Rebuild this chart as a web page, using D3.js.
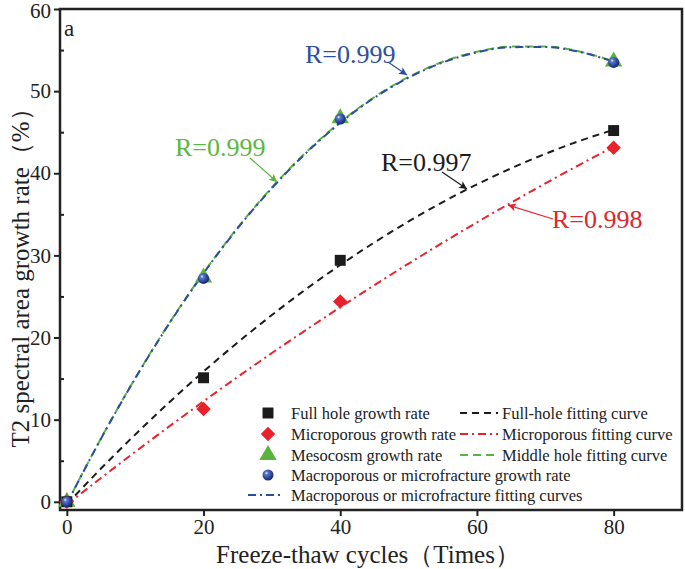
<!DOCTYPE html>
<html>
<head>
<meta charset="utf-8">
<script src="https://cdn.jsdelivr.net/npm/d3@7"></script>
<style>
  html, body { margin: 0; padding: 0; background: #fff; }
  svg { display: block; }
  text { font-family: "Liberation Serif", "Times New Roman", serif; }
</style>
</head>
<body>
<svg id="chart" width="685" height="569"></svg>
<script>
// ---------------- data ----------------
const cycles = [0, 20, 40, 80];
const fullHole = [0, 15.1, 29.4, 45.2];
const microporous = [0, 11.3, 24.4, 43.1];
const mesocosm = [0, 27.3, 46.7, 53.6];
const macroporous = [0, 27.2, 46.6, 53.5];

// fitted curves
const fitX = [0, 5, 10, 15, 20, 25, 30, 35, 40, 45, 50, 55, 60, 65, 70, 75, 80];
const fitFull = [-0.3, 4.05, 8.18, 12.12, 15.86, 19.4, 22.74, 25.89, 28.83, 31.58, 34.13, 36.49, 38.64, 40.6, 42.36, 43.93, 45.29];
const fitMicro = [-0.36, 2.9, 6.08, 9.19, 12.23, 15.21, 18.11, 20.93, 23.69, 26.38, 29.0, 31.55, 34.02, 36.42, 38.76, 41.03, 43.22];
const fitMiddle = [-0.2, 7.72, 15.05, 21.77, 27.88, 33.38, 38.27, 42.55, 46.22, 49.28, 51.73, 53.57, 54.8, 55.42, 55.43, 54.83, 53.62];
const fitMacro = [-0.23, 7.69, 15.01, 21.72, 27.82, 33.31, 38.19, 42.47, 46.14, 49.2, 51.65, 53.49, 54.72, 55.35, 55.37, 54.78, 53.58];

const xTicks = [0, 20, 40, 60, 80];
const yTicks = [0, 10, 20, 30, 40, 50, 60];
const yMinorTicks = [5, 15, 25, 35, 45, 55];

const legendLabels = ["Full hole growth rate", "Microporous growth rate", "Mesocosm growth rate",
  "Macroporous or microfracture growth rate"];
const legendCurveLabels = ["Full-hole fitting curve", "Microporous fitting curve", "Middle hole fitting curve",
  "Macroporous or microfracture fitting curves"];
const rLabels = ["R=0.997", "R=0.998", "R=0.999", "R=0.999"];

// ---------------- layout ----------------
const L = 60, R = 682, T = 9, B = 510;
const svg = d3.select("#chart");
const x = d3.scaleLinear().domain([-1, 90]).range([L, R]);
const y = d3.scaleLinear().domain([-1, 60]).range([B, T]);

const col = {
  black: "#1b1b1b", red: "#e8222b", green: "#5bb33f", blue: "#2c4c9e",
  redText: "#e0262c", greenText: "#5cb83c", blueText: "#2e4fa0", axis: "#222"
};

const defs = svg.append("defs");
const grad = defs.append("radialGradient").attr("id", "sphere")
  .attr("cx", "40%").attr("cy", "38%").attr("r", "60%").attr("fx", "35%").attr("fy", "32%");
grad.append("stop").attr("offset", "0%").attr("stop-color", "#e8ecff");
grad.append("stop").attr("offset", "25%").attr("stop-color", "#5a78c8");
grad.append("stop").attr("offset", "70%").attr("stop-color", "#2c46a0");
grad.append("stop").attr("offset", "100%").attr("stop-color", "#1a2a70");

function arrowDef(id, color) {
  defs.append("marker").attr("id", id).attr("viewBox", "0 0 10 10")
    .attr("refX", 10).attr("refY", 5).attr("markerWidth", 10).attr("markerHeight", 8)
    .attr("markerUnits", "userSpaceOnUse").attr("orient", "auto")
    .append("path").attr("d", "M0,0 L10,5 L0,10 L2.5,5 Z").attr("fill", color);
}
arrowDef("arBlack", col.black);
arrowDef("arRed", col.red);
arrowDef("arGreen", col.green);
arrowDef("arBlue", col.blue);

// ---------------- axes ----------------
const xAxis = d3.axisBottom(x).tickValues(xTicks).tickSize(6).tickPadding(3).tickFormat(d3.format("d"));
const gx = svg.append("g").attr("transform", `translate(0,${B})`).call(xAxis);
const yAxis = d3.axisLeft(y).tickValues(yTicks).tickSize(6).tickPadding(3).tickFormat(d3.format("d"));
const gy = svg.append("g").attr("transform", `translate(${L},0)`).call(yAxis);
const yMinor = d3.axisRight(y).tickValues(yMinorTicks).tickSize(4).tickFormat("");
const gym = svg.append("g").attr("transform", `translate(${L},0)`).call(yMinor);
[gx, gy, gym].forEach(g => {
  g.select(".domain").remove();
  g.selectAll(".tick line").attr("stroke", col.axis).attr("stroke-width", 2);
  g.selectAll(".tick text").attr("fill", "#222").style("font-size", "21px")
    .style("font-family", "'Liberation Serif', serif");
});
gy.selectAll(".tick text").filter(d => d === 60).attr("dy", "0.42em");

svg.append("rect").attr("x", L).attr("y", T).attr("width", R - L).attr("height", B - T)
  .attr("fill", "none").attr("stroke", col.axis).attr("stroke-width", 2.5);

svg.append("text").attr("x", 368).attr("y", 563).attr("text-anchor", "middle")
  .attr("fill", "#222").style("font-size", "25px").text("Freeze-thaw cycles（Times）");
svg.append("text").attr("transform", "translate(29,272) rotate(-90)").attr("text-anchor", "middle")
  .attr("fill", "#222").style("font-size", "25px").text("T2 spectral area growth rate（%）");

svg.append("text").attr("x", 64).attr("y", 36).attr("fill", "#222").style("font-size", "23px").text("a");

// ---------------- curves ----------------
const line = d3.line().x(d => x(d[0])).y(d => y(d[1])).curve(d3.curveMonotoneX);
const curveDefs = [
  { vals: fitFull, color: col.black, dash: "7,5" },
  { vals: fitMicro, color: col.red, dash: "8,4,2,4" },
  { vals: fitMiddle, color: col.green, dash: "8,5" },
  { vals: fitMacro, color: col.blue, dash: "8,4,2,4" }
];
curveDefs.forEach(c => {
  svg.append("path").datum(fitX.map((v, i) => [v, c.vals[i]]))
    .attr("d", line).attr("fill", "none").attr("stroke", c.color)
    .attr("stroke-width", 2).attr("stroke-dasharray", c.dash);
});

// ---------------- markers ----------------
const sq = d3.symbol().type(d3.symbolSquare).size(120);
const dia = d3.symbol().type(d3.symbolSquare).size(105);
const tri = d3.symbol().type(d3.symbolTriangle).size(130);
const rot = { sq: 0, dia: 45, tri: 0 };

function drawPts(vals, sym, fill, angle) {
  svg.append("g").selectAll("path").data(cycles.map((c, i) => [c, vals[i]])).join("path")
    .attr("transform", d => `translate(${x(d[0])},${y(d[1])}) rotate(${angle})`)
    .attr("d", sym).attr("fill", fill);
}
drawPts(mesocosm, tri, col.green, rot.tri);
drawPts(microporous, dia, col.red, rot.dia);
drawPts(fullHole, sq, col.black, rot.sq);
svg.append("g").selectAll("circle").data(cycles.map((c, i) => [c, macroporous[i]])).join("circle")
  .attr("cx", d => x(d[0])).attr("cy", d => y(d[1])).attr("r", 5.5).attr("fill", "url(#sphere)");

// ---------------- R annotations ----------------
const notes = [
  { t: rLabels[0], c: col.black, tc: col.black, tx: 381, ty: 171, a: [442, 172, 467, 189], m: "arBlack" },
  { t: rLabels[1], c: col.red, tc: col.redText, tx: 552, ty: 228, a: [553, 219, 508, 205], m: "arRed" },
  { t: rLabels[2], c: col.green, tc: col.greenText, tx: 175, ty: 156, a: [250, 158, 277, 182], m: "arGreen" },
  { t: rLabels[3], c: col.blue, tc: col.blueText, tx: 305, ty: 63, a: [388, 62, 407, 75], m: "arBlue" }
];
notes.forEach(n => {
  svg.append("text").attr("x", n.tx).attr("y", n.ty).attr("fill", n.tc).style("font-size", "26px").text(n.t);
  svg.append("line").attr("x1", n.a[0]).attr("y1", n.a[1]).attr("x2", n.a[2]).attr("y2", n.a[3])
    .attr("stroke", n.c).attr("stroke-width", 1.2).attr("marker-end", `url(#${n.m})`);
});

// ---------------- legend ----------------
const rowY = [413, 434, 455, 475];
const lg = svg.append("g").style("font-size", "16.5px");
const legSyms = [
  { s: sq, f: col.black, a: 0 }, { s: dia, f: col.red, a: 45 }, { s: tri, f: col.green, a: 0 }, { s: null, f: "url(#sphere)", a: 0 }
];
legendLabels.forEach((lab, i) => {
  const ls = legSyms[i];
  if (ls.s) lg.append("path").attr("transform", `translate(268,${rowY[i]}) rotate(${ls.a})`).attr("d", ls.s).attr("fill", ls.f);
  else lg.append("circle").attr("cx", 268).attr("cy", rowY[i]).attr("r", 5.5).attr("fill", ls.f);
  lg.append("text").attr("x", 291).attr("y", rowY[i] + 5.5).attr("fill", "#222").text(lab);
});
const curveRowY = [413, 434, 455, 495];
const curveLeg = [
  { x1: 460, x2: 498, tx: 502 }, { x1: 460, x2: 498, tx: 502 }, { x1: 460, x2: 498, tx: 502 }, { x1: 248, x2: 283, tx: 291 }
];
legendCurveLabels.forEach((lab, i) => {
  const c = curveDefs[i], p = curveLeg[i];
  lg.append("line").attr("x1", p.x1).attr("x2", p.x2).attr("y1", curveRowY[i]).attr("y2", curveRowY[i])
    .attr("stroke", c.color).attr("stroke-width", 2).attr("stroke-dasharray", c.dash);
  lg.append("text").attr("x", p.tx).attr("y", curveRowY[i] + 5.5).attr("fill", "#222").text(lab);
});
</script>
</body>
</html>
